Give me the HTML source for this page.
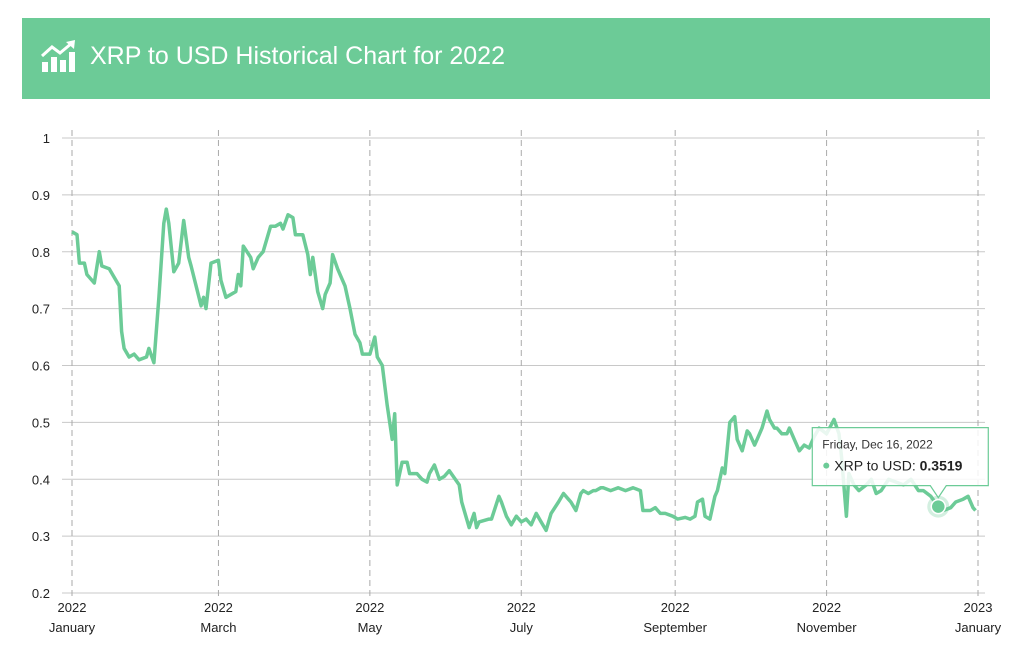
<!DOCTYPE html>
<html><head><meta charset="utf-8"><style>
body{margin:0;background:#fff;width:1024px;height:661px;overflow:hidden;font-family:"Liberation Sans",sans-serif}
#hdr{position:absolute;left:22px;top:18px;width:968px;height:81px;background:#6ccb97}
#hdr span{position:absolute;left:68px;top:24px;color:#fff;font-size:25px}
</style></head><body>
<svg id="c" width="1024" height="661" style="position:absolute;left:0;top:0"></svg>
<div id="hdr">
<svg style="position:absolute;left:18px;top:22px" width="38" height="34" viewBox="0 0 38 34">
<rect x="2" y="22" width="6" height="10" fill="#fff"/><rect x="11" y="17" width="6" height="15" fill="#fff"/><rect x="20" y="20" width="6" height="12" fill="#fff"/><rect x="29" y="12" width="6" height="20" fill="#fff"/>
<polyline points="2,16 12,7 20,13 32,3" fill="none" stroke="#fff" stroke-width="3"/><polygon points="26,2 35,0 34,9" fill="#fff"/></svg>
<span>XRP to USD Historical Chart for 2022</span></div>
<script>
const days=[0,2,3,5,6,9,11,12,15,19,20,21,23,25,27,30,31,33,35,37,38,39,41,43,45,47,48,50,52,53,54,56,59,60,62,66,67,68,69,72,73,75,77,80,82,84,85,87,89,90,93,95,96,97,99,101,102,104,105,107,110,112,114,116,117,120,122,123,125,127,129,130,131,133,135,136,139,141,143,144,146,148,150,152,156,157,160,162,163,164,168,169,172,173,175,177,179,181,183,185,187,189,191,193,196,198,200,201,203,205,206,208,210,211,213,214,217,220,223,226,229,230,233,235,237,239,242,244,247,249,251,252,254,255,257,259,260,262,263,265,267,268,270,272,273,275,276,278,280,281,283,284,286,288,289,291,293,295,297,299,301,304,307,309,310,312,313,315,317,320,322,324,326,329,332,335,338,341,343,346,349,351,354,356,359,361,363,364];
const prices=[0.835,0.83,0.78,0.78,0.76,0.745,0.80,0.775,0.77,0.74,0.66,0.63,0.615,0.62,0.61,0.615,0.63,0.605,0.72,0.85,0.875,0.85,0.765,0.78,0.855,0.79,0.775,0.74,0.705,0.72,0.70,0.78,0.785,0.75,0.72,0.73,0.76,0.74,0.81,0.79,0.77,0.79,0.80,0.845,0.845,0.85,0.84,0.865,0.86,0.83,0.83,0.795,0.76,0.79,0.73,0.70,0.725,0.745,0.795,0.77,0.74,0.70,0.655,0.64,0.62,0.62,0.65,0.615,0.60,0.53,0.47,0.515,0.39,0.43,0.43,0.41,0.41,0.40,0.395,0.41,0.425,0.40,0.405,0.415,0.39,0.36,0.315,0.34,0.315,0.325,0.33,0.33,0.37,0.36,0.335,0.32,0.335,0.325,0.33,0.32,0.34,0.325,0.31,0.34,0.36,0.375,0.365,0.36,0.345,0.375,0.38,0.375,0.38,0.38,0.385,0.385,0.38,0.385,0.38,0.385,0.38,0.345,0.345,0.35,0.34,0.34,0.335,0.33,0.333,0.33,0.335,0.36,0.365,0.335,0.33,0.37,0.38,0.42,0.41,0.50,0.51,0.47,0.45,0.485,0.48,0.46,0.47,0.49,0.52,0.505,0.49,0.49,0.48,0.48,0.49,0.47,0.45,0.46,0.455,0.475,0.49,0.48,0.505,0.48,0.44,0.335,0.41,0.39,0.38,0.39,0.40,0.375,0.38,0.40,0.395,0.39,0.40,0.38,0.38,0.37,0.3519,0.345,0.35,0.36,0.365,0.37,0.35,0.345];
const yTicks=[0.2,0.3,0.4,0.5,0.6,0.7,0.8,0.9,1];
const xTickDays=[0,59,120,181,243,304,365];
const xTickYears=["2022","2022","2022","2022","2022","2022","2023"];
const xTickMonths=["January","March","May","July","September","November","January"];
const hoverIndex=180;
const NS="http://www.w3.org/2000/svg",svg=document.getElementById('c');
const X=d=>72+d*906/365, Y=v=>593-(v-0.2)*455/0.8;
function mk(t,a,p){const e=document.createElementNS(NS,t);for(const k in a)e.setAttribute(k,a[k]);(p||svg).appendChild(e);return e;}
yTicks.forEach(v=>{
 const l=mk('line',{x1:62,x2:985,y1:Y(v),y2:Y(v),stroke:'#c8c8c8','stroke-width':1});
 
 
 const t=mk('text',{x:50,y:Y(v)+5,'text-anchor':'end','font-size':13,fill:'#222'});t.textContent=String(v);
 
 
});
xTickDays.forEach((d,i)=>{
 const l=mk('line',{x1:X(d),x2:X(d),y1:130,y2:600,stroke:'#aaa','stroke-dasharray':'6,4'});
 
 
 const a=mk('text',{x:X(d),y:612,'text-anchor':'middle','font-size':13,fill:'#222'});a.textContent=xTickYears[i];
 
 
 const b=mk('text',{x:X(d),y:632,'text-anchor':'middle','font-size':13,fill:'#222'});b.textContent=xTickMonths[i];
 
 
});
const line=mk('path',{d:days.map((d,i)=>(i?'L':'M')+X(d).toFixed(1)+','+Y(prices[i]).toFixed(1)).join(''),fill:'none',stroke:'#6ccb97','stroke-width':3.5,'stroke-linejoin':'round'});


const hx=X(days[hoverIndex]),hy=Y(prices[hoverIndex]);
const halo=mk('circle',{cx:hx,cy:hy,r:11,fill:'#6ccb97','fill-opacity':0.3});


const dot=mk('circle',{cx:hx,cy:hy,r:7,fill:'#6ccb97',stroke:'#fff','stroke-width':1.5});


const g=mk('g',{});


const bx=hx-126,by=hy-79;
mk('path',{d:`M${bx},${by}h176v58h-${176-134}l-8,12l-8,-12h-118z`,fill:'#fff','fill-opacity':0.85,stroke:'#6ccb97','stroke-width':1.2},g);
const t1=mk('text',{x:bx+10,y:by+21,'font-size':12,fill:'#333'},g);t1.textContent='Friday, Dec 16, 2022';
mk('circle',{cx:bx+14,cy:by+38,r:3,fill:'#6ccb97'},g);
const t2=mk('text',{x:bx+22,y:by+43,'font-size':14,fill:'#222'},g);t2.innerHTML='XRP to USD: <tspan font-weight="bold">'+prices[hoverIndex].toFixed(4)+'</tspan>';
</script>
</body></html>
